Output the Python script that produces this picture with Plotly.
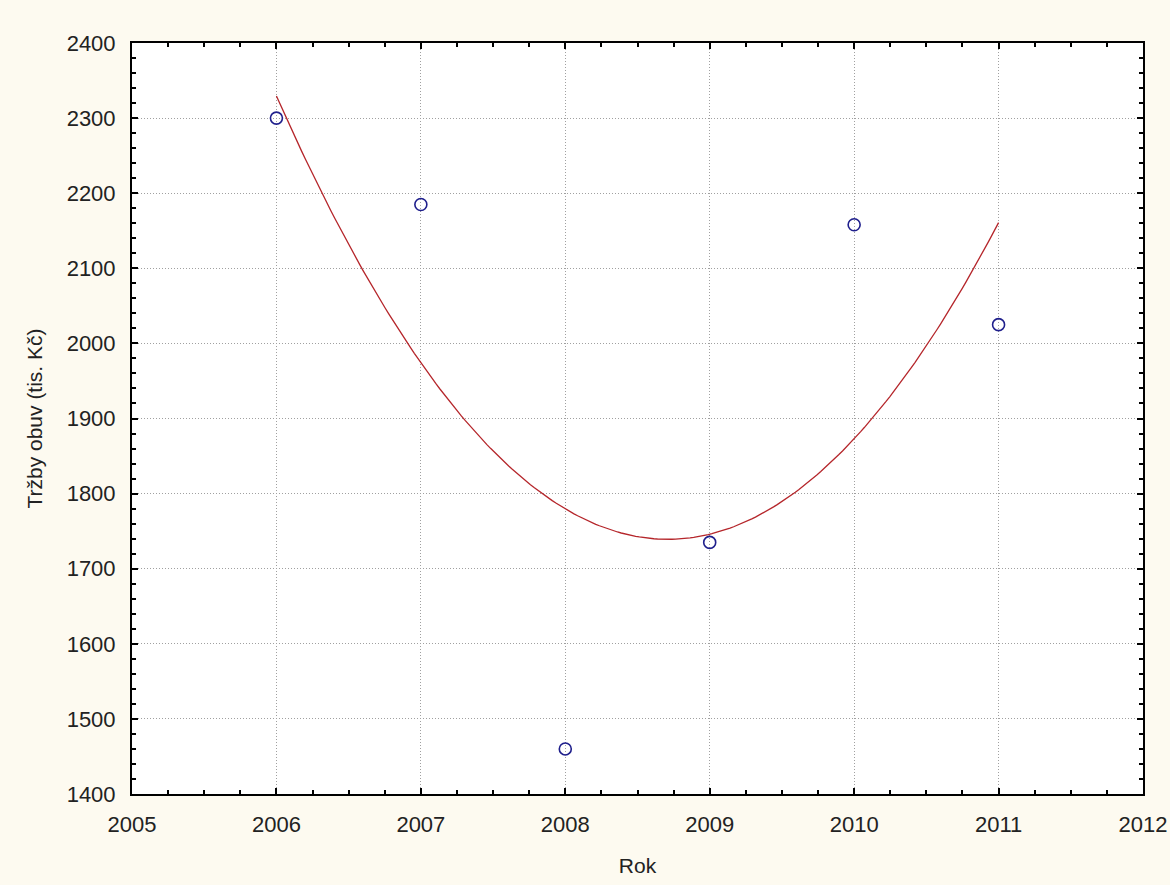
import numpy as np
import plotly.graph_objects as go

years = [2006, 2007, 2008, 2009, 2010, 2011]
sales = [2300, 2185, 1460, 1735, 2158, 2025]

x_ticks = [2005, 2006, 2007, 2008, 2009, 2010, 2011, 2012]
y_ticks = [1400, 1500, 1600, 1700, 1800, 1900, 2000, 2100, 2200, 2300, 2400]

# quadratic least-squares fit, as drawn in the reference
coef = np.polyfit(years, sales, 2)
xf = np.linspace(min(years), max(years), 200)
yf = np.polyval(coef, xf)

FONT = "Liberation Sans, Arial"

fig = go.Figure()
fig.add_trace(go.Scatter(x=xf, y=yf, mode="lines",
                         line=dict(color="#b5262b", width=1.3),
                         hoverinfo="skip", showlegend=False))
fig.add_trace(go.Scatter(x=years, y=sales, mode="markers",
                         marker=dict(symbol="circle-open", size=12,
                                     color="#1f1f8c", line=dict(width=1.6)),
                         showlegend=False))

axis_common = dict(
    showline=True, linecolor="black", linewidth=2, mirror="allticks",
    ticks="inside", ticklen=6, tickwidth=1.5, tickcolor="black",
    showgrid=True, gridcolor="#a0a0a0", griddash="1px,2px", gridwidth=1,
    zeroline=False, ticklabelstandoff=10, automargin=False,
    tickfont=dict(family=FONT, size=22, color="#222"),
)

fig.update_xaxes(
    range=[2005, 2012], tickvals=x_ticks, ticktext=[str(v) for v in x_ticks],
    minor=dict(ticks="inside", dtick=0.25, ticklen=4, tickcolor="black", showgrid=False),
    title=dict(text="Rok", font=dict(family=FONT, size=21, color="#222"), standoff=22),
    **axis_common,
)
fig.update_yaxes(
    range=[1400, 2400], tickvals=y_ticks, ticktext=[str(v) for v in y_ticks],
    minor=dict(ticks="inside", dtick=20, ticklen=4, tickcolor="black", showgrid=False),
    title=dict(text="Tržby obuv (tis. Kč)", font=dict(family=FONT, size=21, color="#222"), standoff=18),
    **axis_common,
)

fig.update_layout(
    width=1170, height=885, autosize=False,
    margin=dict(l=132, r=27, t=43, b=91),
    paper_bgcolor="#fdfaf0", plot_bgcolor="white",
)

fig.write_html("out.html",
               config={"responsive": False, "displayModeBar": False},
               post_script="document.body.style.margin='0px';document.body.style.overflow='hidden';")
